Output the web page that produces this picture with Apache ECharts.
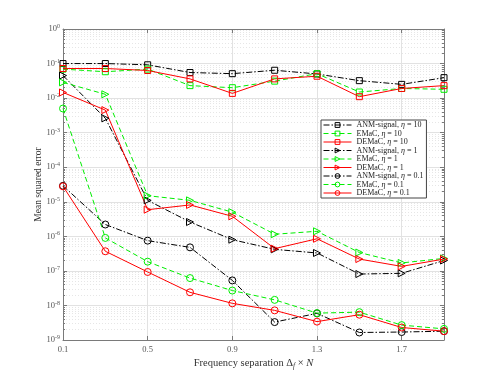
<!DOCTYPE html>
<html>
<head>
<meta charset="utf-8">
<script src="https://cdn.jsdelivr.net/npm/echarts@6/dist/echarts.min.js"></script>
<style>html,body{margin:0;padding:0;background:#fff;}#c{width:491px;height:382px;}</style>
</head>
<body>
<div id="c"></div>
<script>
var xCats = ['0.1','0.3','0.5','0.7','0.9','1.1','1.3','1.5','1.7','1.9'];

var anm10   = [0.1, 0.1, 0.092, 0.055, 0.051, 0.064, 0.05, 0.032, 0.025, 0.039];
var emac10  = [0.069, 0.058, 0.069, 0.023, 0.020, 0.031, 0.051, 0.015, 0.019, 0.018];
var demac10 = [0.072, 0.072, 0.063, 0.036, 0.0137, 0.036, 0.043, 0.011, 0.019, 0.023];
var anm1    = [0.045, 0.0026, 1.1e-5, 2.6e-6, 8e-7, 4.2e-7, 3.3e-7, 8.1e-8, 8.5e-8, 2e-7];
var emac1   = [0.0285, 0.0129, 1.5e-5, 1.1e-5, 5e-6, 1.15e-6, 1.4e-6, 3.4e-7, 1.7e-7, 2.3e-7];
var demac1  = [0.0146, 0.0045, 5.9e-6, 8.1e-6, 3.8e-6, 4.4e-7, 8.5e-7, 2.2e-7, 1.35e-7, 2.2e-7];
var anm01   = [2.9e-5, 2.2e-6, 7.5e-7, 4.8e-7, 5.3e-8, 3.3e-9, 5.9e-9, 1.65e-9, 1.7e-9, 1.8e-9];
var emac01  = [0.005, 9e-7, 1.85e-7, 6.2e-8, 2.7e-8, 1.45e-8, 6e-9, 6.4e-9, 2.7e-9, 2.1e-9];
var demac01 = [2.8e-5, 3.7e-7, 9.3e-8, 2.4e-8, 1.15e-8, 7.2e-9, 3.4e-9, 5.4e-9, 2.3e-9, 1.8e-9];

var seriesNames = ['ANM-signal, η = 10','EMaC, η = 10','DEMaC, η = 10',
                   'ANM-signal, η = 1','EMaC, η = 1','DEMaC, η = 1',
                   'ANM-signal, η = 0.1','EMaC, η = 0.1','DEMaC, η = 0.1'];
var seriesData = [anm10, emac10, demac10, anm1, emac1, demac1, anm01, emac01, demac01];

var FONT = 'Liberation Serif';
var colors = {anm:'#000000', emac:'#00ee00', demac:'#ff0000'};
var dashDot = [6,2,1.5,2];
var dashed = [5,3];

function mk(i) {
  var kind = ['anm','emac','demac'][i % 3];
  var grp = Math.floor(i / 3);
  var sym = grp === 0 ? 'rect' : (grp === 1 ? 'triangle' : 'circle');
  var size = grp === 0 ? 6 : 7;
  var c = colors[kind];
  return {
    name: seriesNames[i],
    type: 'line',
    data: seriesData[i],
    symbol: sym,
    symbolSize: size,
    symbolRotate: grp === 1 ? -90 : 0,
    showAllSymbol: true,
    z: 3,
    lineStyle: {color: c, width: 1, type: kind === 'anm' ? dashDot : (kind === 'emac' ? dashed : 'solid')},
    itemStyle: {color: 'rgba(0,0,0,0)', borderColor: c, borderWidth: 1},
    emphasis: {disabled: true},
    animation: false
  };
}
var series = [];
for (var i = 0; i < 9; i++) series.push(mk(i));

var axisColor = '#7a7a7a';
var labelColor = '#555';

var option = {
  backgroundColor: '#fff',
  animation: false,
  grid: {left: 63, right: 47, top: 29, bottom: 42},
  legend: {
    data: seriesNames,
    orient: 'vertical',
    left: 321, top: 120,
    backgroundColor: '#fff',
    borderColor: '#444', borderWidth: 1,
    padding: [1, 3, 1, 2],
    itemGap: 0.5,
    itemWidth: 28, itemHeight: 6,
    itemStyle: {color: 'rgba(0,0,0,0)', borderWidth: 1},
    lineStyle: {width: 1},
    formatter: function (n) {
      var parts = n.split('η');
      return '{n|' + parts[0] + '}{i|η}{n|' + parts[1] + '}';
    },
    textStyle: {fontFamily: FONT, fontSize: 8, color: '#222', lineHeight: 8,
      rich: {n: {fontFamily: FONT, fontSize: 8, color: '#222', lineHeight: 8},
             i: {fontFamily: FONT, fontSize: 8, fontStyle: 'italic', color: '#222', lineHeight: 8}}}
  },
  xAxis: [{
    type: 'category', data: xCats, boundaryGap: false,
    axisLine: {show: true, lineStyle: {color: axisColor, width: 1}},
    axisTick: {show: true, inside: true, interval: 1, length: 4, lineStyle: {color: axisColor}},
    axisLabel: {interval: 1, color: labelColor, fontFamily: FONT, fontSize: 8.5, margin: 5},
    splitLine: {show: true, interval: 1, lineStyle: {color: '#e2e2e2', width: 1}},
    name: '{a|Frequency separation Δ}{s|f}{a| × }{i|N}',
    nameLocation: 'middle', nameGap: 16, nameMoveOverlap: false,
    nameTextStyle: {rich: {
      a: {fontFamily: FONT, fontSize: 10.5, color: '#333', lineHeight: 14},
      s: {fontFamily: FONT, fontSize: 7.5, fontStyle: 'italic', color: '#333', verticalAlign: 'bottom', lineHeight: 14},
      i: {fontFamily: FONT, fontSize: 10.5, fontStyle: 'italic', color: '#333', lineHeight: 14}
    }}
  }, {
    type: 'category', data: xCats, boundaryGap: false, position: 'top',
    axisLine: {show: true, lineStyle: {color: axisColor, width: 1}},
    axisTick: {show: true, inside: true, interval: 1, length: 4, lineStyle: {color: axisColor}},
    axisLabel: {show: false}, splitLine: {show: false}
  }],
  yAxis: [{
    type: 'log', logBase: 10, min: 1e-9, max: 1, splitNumber: 9,
    axisLine: {show: true, lineStyle: {color: axisColor, width: 1}},
    axisTick: {show: true, inside: true, length: 4, lineStyle: {color: axisColor}},
    minorTick: {show: true, splitNumber: 9, length: 2, lineStyle: {color: axisColor}},
    splitLine: {show: true, lineStyle: {color: '#e2e2e2', width: 1}},
    minorSplitLine: {show: true, lineStyle: {color: '#e6e6e6', type: [1, 2], width: 1}},
    axisLabel: {
      margin: 3,
      formatter: function (v) {
        var e = Math.round(Math.log10(v));
        return '{b|10}{s|' + e + '}';
      },
      rich: {
        b: {fontFamily: FONT, fontSize: 8.5, color: labelColor, lineHeight: 11},
        s: {fontFamily: FONT, fontSize: 6, color: labelColor, verticalAlign: 'top', lineHeight: 11}
      }
    },
    name: 'Mean squared error', nameLocation: 'middle', nameGap: 20, nameRotate: 90, nameMoveOverlap: false,
    nameTextStyle: {fontFamily: FONT, fontSize: 9.5, color: '#333'}
  }, {
    type: 'log', logBase: 10, min: 1e-9, max: 1, splitNumber: 9, position: 'right',
    axisLine: {show: true, lineStyle: {color: axisColor, width: 1}},
    axisTick: {show: true, inside: true, length: 4, lineStyle: {color: axisColor}},
    minorTick: {show: true, splitNumber: 9, length: 2, lineStyle: {color: axisColor}},
    axisLabel: {show: false}, splitLine: {show: false}
  }],
  series: series
};

var chart = echarts.init(document.getElementById('c'), null, {renderer: 'canvas'});
chart.setOption(option);
</script>
</body>
</html>
